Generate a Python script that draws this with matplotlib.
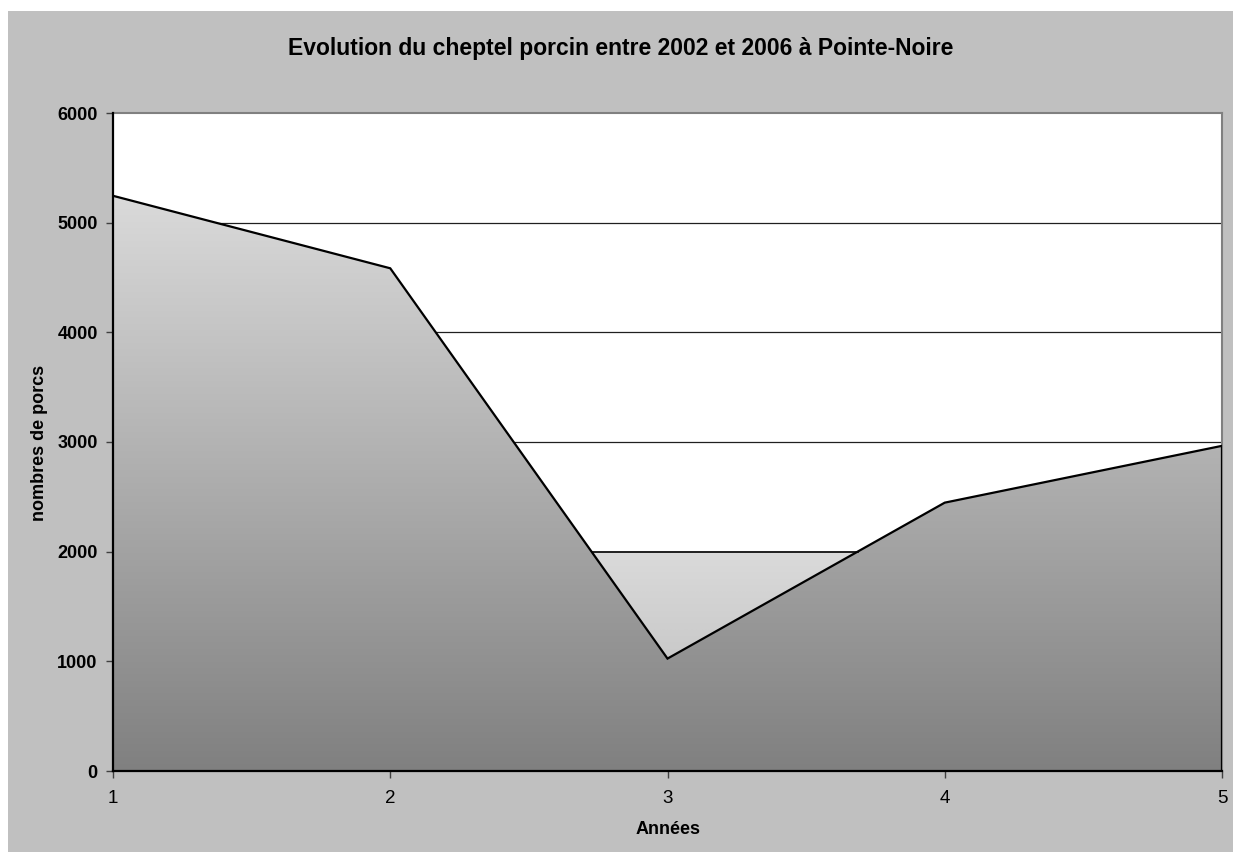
import numpy as np
import matplotlib
matplotlib.use("Agg")
import matplotlib.pyplot as plt
from matplotlib.colors import LinearSegmentedColormap
from matplotlib.patches import Polygon, Rectangle

plt.rcParams['font.family'] = ['Liberation Sans', 'DejaVu Sans']

# Data
annees = [1, 2, 3, 4, 5]
porcs = [5245, 4584, 1025, 2447, 2965]
y_ticks = [0, 1000, 2000, 3000, 4000, 5000, 6000]
title = "Evolution du cheptel porcin entre 2002 et 2006 à Pointe-Noire"
x_label = "Années"
y_label = "nombres de porcs"

W, H = 1233, 852
fig = plt.figure(figsize=(W / 100, H / 100), dpi=100, facecolor="white")

# Grey chart area with a thin white margin on the top and left edges
fig.patches.append(Rectangle((8 / W, 0), 1, (H - 11) / H, transform=fig.transFigure,
                             facecolor="#c0c0c0", edgecolor="none", zorder=-10))

ax = fig.add_axes([113 / W, 1 - 771 / H, (1222 - 113) / W, (771 - 113) / H])
ax.set_facecolor("white")

x = np.array(annees, dtype=float)
y = np.array(porcs, dtype=float)
ymax = y_ticks[-1]

# Horizontal grid lines
for t in y_ticks[1:-1]:
    ax.axhline(t, color="#202020", lw=0.9, zorder=1)

cmap = LinearSegmentedColormap.from_list("grey_grad", ["#808080", "#dadada"])

# Main area with vertical gradient
verts = [(x[0], 0)] + list(zip(x, y)) + [(x[-1], 0)]
area = Polygon(verts, closed=True, facecolor="none", edgecolor="none")
ax.add_patch(area)
top = y.max()
grad = np.linspace(0, 1, 256).reshape(-1, 1)
im = ax.imshow(grad, extent=[x[0], x[-1], 0, top], origin="lower", aspect="auto",
               cmap=cmap, vmin=0, vmax=1, zorder=2, interpolation="bilinear")
im.set_clip_path(area)

# Light patch where the series dips below the 2000 grid line
level = 2000
crossings = []
for i in range(len(x) - 1):
    y0, y1 = y[i], y[i + 1]
    if (y0 - level) * (y1 - level) < 0:
        crossings.append(x[i] + (level - y0) / (y1 - y0) * (x[i + 1] - x[i]))
if len(crossings) >= 2:
    xa, xb = crossings[0], crossings[1]
    inner = [(xa, level)] + [(xi, yi) for xi, yi in zip(x, y) if xa < xi < xb] + [(xb, level)]
    tri = Polygon(inner, closed=True, facecolor="none", edgecolor="none")
    ax.add_patch(tri)
    lo = min(yi for _, yi in inner)
    # same slope as the main gradient, starting from the lightest tone
    v_lo = 1 - (level - lo) / top
    g2 = np.linspace(v_lo, 1, 256).reshape(-1, 1)
    im2 = ax.imshow(g2, extent=[xa, xb, lo, level], origin="lower", aspect="auto",
                    cmap=cmap, vmin=0, vmax=1, zorder=3, interpolation="bilinear")
    im2.set_clip_path(tri)
    ax.plot([xa, xb], [level, level], color="black", lw=1.2, zorder=4)

# Outline of the area
ax.plot(list(x) + [x[-1]], list(y) + [0], color="black", lw=1.6, zorder=5,
        solid_joinstyle="miter")

ax.set_xlim(x[0], x[-1])
ax.set_ylim(0, ymax)
ax.set_xticks(annees)
ax.set_xticklabels([str(a) for a in annees], fontsize=13.5)
ax.set_yticks(y_ticks)
ax.set_yticklabels([str(t) for t in y_ticks], fontsize=13, fontweight="bold")

for s in ["top", "right"]:
    ax.spines[s].set_color("#808080")
    ax.spines[s].set_linewidth(1.5)
for s in ["left", "bottom"]:
    ax.spines[s].set_color("black")
    ax.spines[s].set_linewidth(1.6)
    ax.spines[s].set_zorder(6)
ax.tick_params(axis="both", direction="out", length=5, width=1, color="#404040")
ax.tick_params(axis="x", pad=9)
ax.tick_params(axis="y", pad=6)

fig.text(621 / W, 1 - 48 / H, title, ha="center", va="center",
         fontsize=16.5, fontweight="bold")
fig.text(668 / W, 1 - 829 / H, x_label, ha="center", va="center",
         fontsize=13, fontweight="bold")
fig.text(39 / W, 1 - 443 / H, y_label, ha="center", va="center",
         fontsize=13, fontweight="bold", rotation=90)

fig.savefig("out.png", dpi=100, facecolor="white")
